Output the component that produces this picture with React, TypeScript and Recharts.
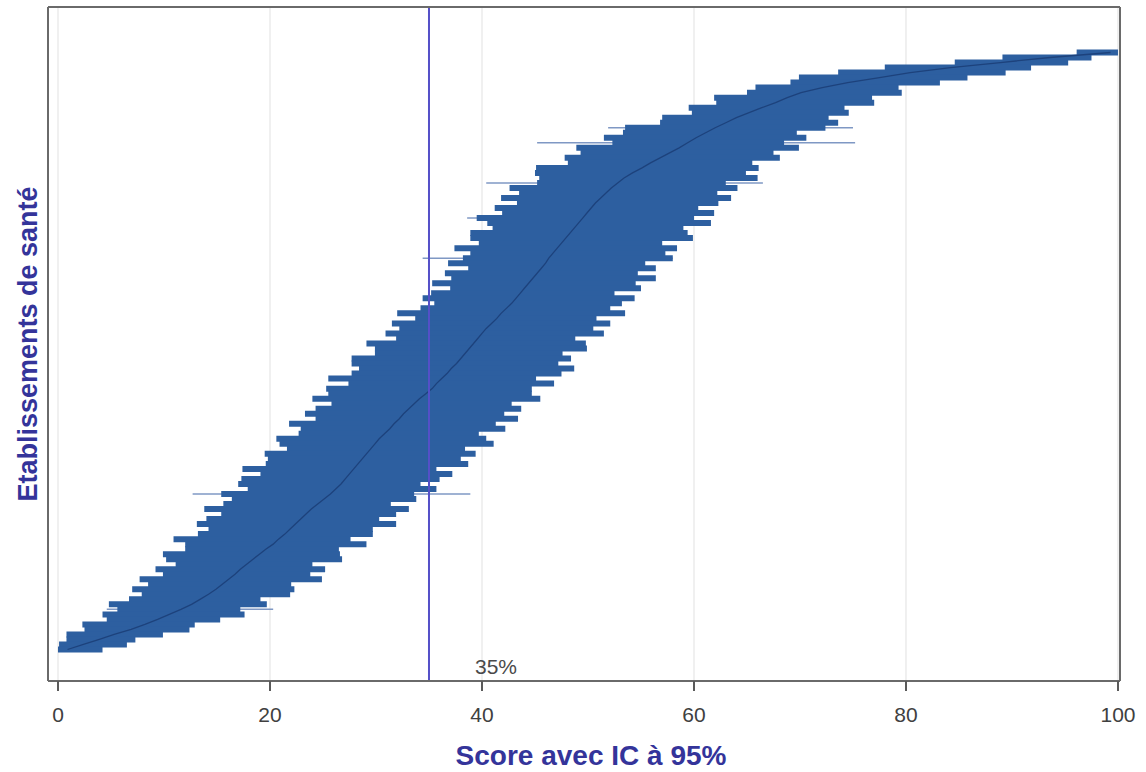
import React from 'react';
import {
  ComposedChart,
  Line,
  XAxis,
  YAxis,
  CartesianGrid,
  ReferenceLine,
  Label,
  ErrorBar,
} from 'recharts';

// Establishments sorted by score (bottom of chart = lowest score)
const score = [
  0.9, 2.4, 3.9, 5.3, 6.9, 8.2, 9.4, 10.5, 11.6, 12.6,
  13.4, 14.2, 14.9, 15.5, 16.1, 16.7, 17.2, 17.8, 18.4, 19.0,
  19.6, 20.3, 20.8, 21.4, 21.9, 22.4, 22.9, 23.4, 23.9, 24.5,
  25.1, 25.7, 26.2, 26.7, 27.1, 27.5, 27.9, 28.3, 28.7, 29.1,
  29.5, 29.9, 30.3, 30.8, 31.3, 31.7, 32.2, 32.6, 33.1, 33.6,
  34.1, 34.7, 35.3, 35.7, 36.2, 36.7, 37.1, 37.6, 38.0, 38.4,
  38.8, 39.2, 39.6, 40.0, 40.4, 40.9, 41.4, 41.8, 42.3, 42.8,
  43.2, 43.6, 44.0, 44.4, 44.8, 45.2, 45.6, 46.0, 46.3, 46.7,
  47.1, 47.5, 47.9, 48.3, 48.7, 49.1, 49.5, 49.9, 50.3, 50.7,
  51.2, 51.7, 52.2, 52.8, 53.4, 54.2, 55.1, 55.9, 56.8, 57.7,
  58.6, 59.4, 60.2, 61.1, 62.0, 63.0, 64.0, 65.2, 66.4, 67.7,
  68.8, 70.1, 72.1, 74.5, 77.5, 80.4, 84.2, 88.9, 93.6, 99.3,
];

const lower = [
  0.0, 0.1, 0.8, 0.8, 2.5, 2.3, 4.6, 4.2, 5.6, 4.8,
  6.7, 7.9, 7.0, 8.5, 7.7, 9.9, 9.2, 11.1, 10.2, 9.9,
  12.0, 12.0, 10.9, 13.2, 14.2, 13.1, 14.0, 15.4, 13.8, 15.6,
  16.4, 15.4, 17.9, 17.0, 17.3, 19.1, 17.4, 19.6, 19.8, 19.5,
  21.6, 20.9, 20.6, 22.7, 22.9, 21.8, 24.3, 23.3, 24.3, 25.8,
  24.0, 25.5, 25.3, 27.4, 25.5, 27.7, 28.4, 27.7, 27.7, 29.9,
  29.9, 29.1, 31.9, 30.9, 32.2, 31.5, 33.7, 32.0, 34.2, 35.5,
  34.4, 35.2, 37.0, 35.3, 37.1, 36.5, 38.7, 36.8, 38.2, 38.9,
  37.4, 39.7, 38.9, 38.9, 41.0, 40.5, 39.5, 41.9, 41.2, 43.3,
  41.8, 43.5, 42.6, 45.2, 45.4, 45.0, 45.1, 48.1, 47.8, 49.3,
  48.9, 52.3, 51.5, 53.3, 53.5, 56.8, 57.0, 59.8, 59.5, 62.1,
  61.9, 65.0, 65.8, 69.1, 69.9, 73.6, 78.0, 84.6, 89.1, 96.1,
];

const upper = [
  4.2, 6.5, 7.3, 9.9, 12.4, 12.9, 15.3, 17.6, 17.2, 19.7,
  19.1, 21.9, 22.3, 22.0, 24.9, 23.8, 25.2, 24.0, 26.8, 26.6,
  26.5, 29.1, 27.6, 29.7, 29.7, 31.9, 30.3, 31.9, 33.1, 31.4,
  33.8, 33.6, 35.7, 34.2, 36.0, 37.2, 35.7, 38.7, 38.0, 39.4,
  38.4, 41.1, 40.4, 39.7, 42.2, 41.3, 43.4, 42.1, 43.7, 42.8,
  45.5, 44.7, 44.7, 46.8, 45.1, 47.5, 48.7, 47.2, 48.4, 47.6,
  49.9, 49.8, 48.8, 51.5, 50.5, 52.1, 50.8, 53.5, 52.1, 53.2,
  54.4, 52.5, 55.0, 54.5, 56.4, 54.7, 56.4, 55.4, 58.0, 57.3,
  58.4, 57.0, 59.9, 59.4, 59.0, 61.6, 60.0, 61.9, 60.4, 62.3,
  63.5, 62.2, 64.1, 63.0, 66.0, 64.9, 66.1, 65.5, 68.1, 67.5,
  69.9, 68.5, 70.6, 69.7, 72.4, 73.6, 72.7, 74.6, 74.2, 77.0,
  76.8, 79.6, 79.3, 83.2, 85.8, 89.4, 91.8, 95.3, 97.5, 100.0,
];

// Establishments whose interval is unusually wide (thin lines)
const wideRank = [9, 32, 79, 87, 94, 102, 105];
const wideLow = [4.6, 12.7, 34.4, 38.6, 40.4, 45.2, 51.9];
const wideHigh = [20.3, 38.9, 58.0, 59.6, 66.5, 75.2, 75.0];

const xTicks = [0, 20, 40, 60, 80, 100];
const xDomain: [number, number] = [-0.943, 100.19];
const threshold = 35;
const thresholdLabel = '35%';
const xTitle = 'Score avec IC à 95%';
const yTitle = 'Etablissements de santé';

const rows = score
  .map((s, i) => {
    const w = wideRank.indexOf(i + 1);
    return {
      id: i + 1,
      score: s,
      ciErr: [s - lower[i], upper[i] - s],
      wideErr: w >= 0 ? [s - wideLow[w], wideHigh[w] - s] : [0, 0],
    };
  })
  .reverse();

const FONT = '"Liberation Sans", Arial, sans-serif';
const FRAME = { stroke: '#6a6a6a', strokeWidth: 2 };
const TITLE_COLOR = '#34349a';
const YPAD = { top: 45.5, bottom: 31.5 };

export default function App() {
  return (
    <div style={{ position: 'absolute', left: 0, top: 0, width: 1146, height: 772, background: '#ffffff' }}>
      <ComposedChart
        width={1146}
        height={772}
        data={rows}
        layout="vertical"
        margin={{ top: 6, right: 25, bottom: 61, left: 47 }}
      >
        <CartesianGrid
          xAxisId="b"
          yAxisId="l"
          horizontal={false}
          vertical={true}
          stroke="#ebebeb"
          strokeWidth={1.5}
        />
        <XAxis
          xAxisId="b"
          type="number"
          domain={xDomain}
          allowDataOverflow
          ticks={xTicks}
          height={30}
          tickSize={10}
          tickMargin={16}
          axisLine={FRAME}
          tickLine={{ stroke: '#5a5a5a', strokeWidth: 2 }}
          tick={{ fill: '#404040', fontSize: 21, fontFamily: FONT }}
        >
          <Label
            value={xTitle}
            position="bottom"
            offset={34}
            dx={7}
            fill={TITLE_COLOR}
            fontSize={28}
            fontWeight="bold"
            fontFamily={FONT}
          />
        </XAxis>
        <XAxis
          xAxisId="t"
          orientation="top"
          type="number"
          domain={xDomain}
          allowDataOverflow
          ticks={xTicks}
          height={1}
          tick={false}
          tickLine={false}
          axisLine={FRAME}
        />
        <YAxis
          yAxisId="l"
          type="category"
          dataKey="id"
          width={1}
          padding={YPAD}
          tick={false}
          tickLine={false}
          axisLine={FRAME}
        >
          <Label
            value={yTitle}
            angle={-90}
            position="insideLeft"
            offset={-20}
            textAnchor="middle"
            fill={TITLE_COLOR}
            fontSize={27}
            fontWeight="bold"
            fontFamily={FONT}
          />
        </YAxis>
        <YAxis
          yAxisId="r"
          orientation="right"
          type="category"
          dataKey="id"
          width={1}
          padding={YPAD}
          tick={false}
          tickLine={false}
          axisLine={FRAME}
        />
        {/* thin, unusually wide intervals (drawn beneath the band) */}
        <Line
          xAxisId="b"
          yAxisId="l"
          dataKey="score"
          stroke="none"
          dot={false}
          activeDot={false}
          legendType="none"
          isAnimationActive={false}
        >
          <ErrorBar
            dataKey="wideErr"
            direction="x"
            width={0}
            stroke="#7f98c4"
            strokeWidth={1.5}
            isAnimationActive={false}
          />
        </Line>
        {/* 95% confidence intervals */}
        <Line
          xAxisId="b"
          yAxisId="l"
          dataKey="score"
          stroke="none"
          dot={false}
          activeDot={false}
          legendType="none"
          isAnimationActive={false}
        >
          <ErrorBar
            dataKey="ciErr"
            direction="x"
            width={0}
            stroke="#2d5fa0"
            strokeWidth={6}
            isAnimationActive={false}
          />
        </Line>
        {/* point estimates */}
        <Line
          xAxisId="b"
          yAxisId="l"
          dataKey="score"
          stroke="#1d427c"
          strokeWidth={1.3}
          dot={false}
          activeDot={false}
          isAnimationActive={false}
        />
        <ReferenceLine
          xAxisId="b"
          yAxisId="l"
          x={threshold}
          stroke="#5550c8"
          strokeWidth={2}
        >
          <Label
            value={thresholdLabel}
            position="insideBottom"
            dx={67}
            dy={-2}
            fill="#4a4a4a"
            fontSize={21}
            fontFamily={FONT}
          />
        </ReferenceLine>
      </ComposedChart>
    </div>
  );
}
